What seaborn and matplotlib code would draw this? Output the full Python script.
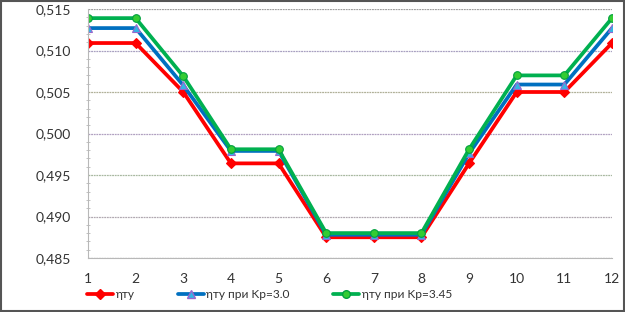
import numpy as np
import pandas as pd
import matplotlib
matplotlib.use("Agg")
import matplotlib.pyplot as plt
import seaborn as sns
from matplotlib.ticker import MultipleLocator, FuncFormatter

x_vals = [1, 2, 3, 4, 5, 6, 7, 8, 9, 10, 11, 12]
eta = [0.5109, 0.5109, 0.5050, 0.4964, 0.4964, 0.4875, 0.4875, 0.4875, 0.4964, 0.5050, 0.5050, 0.5109]
eta_kp30 = [0.5127, 0.5127, 0.5058, 0.4979, 0.4979, 0.4878, 0.4878, 0.4878, 0.4976, 0.5059, 0.5059, 0.5127]
eta_kp345 = [0.5139, 0.5139, 0.5069, 0.4981, 0.4981, 0.4880, 0.4880, 0.4880, 0.4981, 0.5070, 0.5070, 0.5139]
series_names = ["ηту", "ηту при Kр=3.0", "ηту при Kр=3.45"]

df = pd.DataFrame({
    "x": x_vals * 3,
    "y": eta + eta_kp30 + eta_kp345,
    "s": [series_names[0]] * 12 + [series_names[1]] * 12 + [series_names[2]] * 12,
})

sns.set_style("white")
plt.rcParams["font.family"] = ["Lato", "DejaVu Sans"]

fig = plt.figure(figsize=(6.25, 3.12), dpi=100)
ax = fig.add_axes([88 / 625, 1 - 258 / 312, (612 - 88) / 625, (258 - 9) / 312])

palette = {series_names[0]: "#FF0000", series_names[1]: "#0070C0", series_names[2]: "#00B050"}
markers = {series_names[0]: "D", series_names[1]: "^", series_names[2]: "o"}
face = ["#FF0000", "#33B5E5", "#33CC33"]
edge = ["#FF0000", "#9966CC", "#00A040"]
sns.lineplot(data=df, x="x", y="y", hue="s", style="s", palette=palette,
             markers=markers, dashes=False, linewidth=2.7, markersize=5.5,
             ax=ax, legend=False)
for line, fc, ec in zip(ax.lines, face, edge):
    line.set_markerfacecolor(fc)
    line.set_markeredgecolor(ec)
    line.set_markeredgewidth(0.8)

ax.set_xlim(1, 12)
ax.set_ylim(0.485, 0.515)
ax.set_xticks(x_vals)
ax.yaxis.set_major_locator(MultipleLocator(0.005))
ax.yaxis.set_minor_locator(MultipleLocator(0.001))
ax.yaxis.set_major_formatter(FuncFormatter(lambda v, p: f"{v:.3f}".replace(".", ",")))
ax.set_xlabel("")
ax.set_ylabel("")

grid_colors = ["#A0A0A0", "#B0A8B0", "#A8B8A0", "#B0A0C0", "#B0B098", "#A8A0C0", "#A0A0A0"]
for v, c in zip(np.arange(0.485, 0.5151, 0.005), grid_colors):
    ax.axhline(v, color=c, linewidth=0.9, linestyle=(0, (1.5, 0.6)), zorder=0)

for s in ["top", "right"]:
    ax.spines[s].set_visible(False)
ax.spines["left"].set_color("#B8B8B8")
ax.spines["bottom"].set_color("#B8B8B8")
ax.spines["left"].set_linewidth(0.8)
ax.spines["bottom"].set_linewidth(0.8)

ax.tick_params(axis="y", which="major", direction="out", length=4, color="#B8B8B8",
               labelsize=10, labelcolor="#333333", pad=8)
ax.tick_params(axis="y", which="minor", direction="inout", length=3, color="#B8B8B8", left=True)
ax.tick_params(axis="x", which="major", direction="in", length=4, color="#B8B8B8",
               labelsize=10, labelcolor="#333333", pad=11)

handles = [plt.Line2D([], [], color=palette[n], marker=markers[n], linewidth=2.7, markersize=5.5,
                      markerfacecolor=fc, markeredgecolor=ec)
           for n, fc, ec in zip(series_names, face, edge)]
fig.legend(handles, series_names, loc="lower left", bbox_to_anchor=(80 / 625, 0.015), ncol=3,
           frameon=False, fontsize=8.6, handlelength=2.2, handletextpad=0.2,
           columnspacing=3.6, borderaxespad=0.2, labelcolor="#333333")

fig.patches.append(plt.Rectangle((0.001, 0.002), 0.997, 0.995, transform=fig.transFigure,
                                 fill=False, edgecolor="#555555", linewidth=1.5))

fig.savefig("out.png", dpi=100)
